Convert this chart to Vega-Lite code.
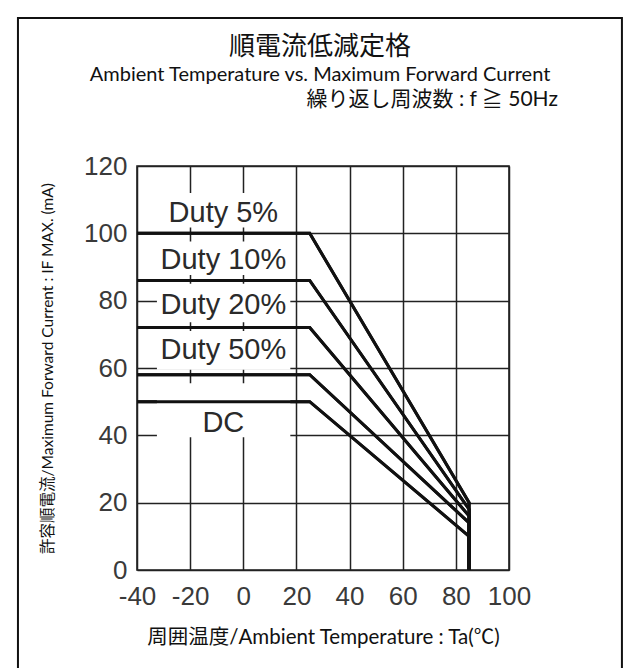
{
  "$schema": "https://vega.github.io/schema/vega-lite/v6.json",
  "width": 372,
  "height": 404,
  "autosize": {"type": "none"},
  "padding": {"left": 137, "top": 166, "right": 131, "bottom": 98},
  "background": "white",
  "config": {
    "view": {"stroke": "#222", "strokeWidth": 1.6},
    "font": "Lato",
    "axis": {
      "grid": true, "gridColor": "#222", "gridWidth": 1.5, "gridOpacity": 1,
      "domain": false, "ticks": false, "labelOverlap": false, "labelBound": false, "labelFlush": false,
      "labelFont": "Liberation Sans", "labelFontSize": 26, "labelColor": "#3a3a3a",
      "titleFont": "Lato, Noto Sans CJK JP", "titleFontWeight": "normal", "titleColor": "#111"
    }
  },
  "datasets": {
    "curves": [
      {"series": "Duty 5%", "i": 1, "temp": -40, "current": 100},
      {"series": "Duty 5%", "i": 2, "temp": 25, "current": 100},
      {"series": "Duty 5%", "i": 3, "temp": 85, "current": 20},
      {"series": "Duty 5%", "i": 4, "temp": 85, "current": 0},
      {"series": "Duty 10%", "i": 1, "temp": -40, "current": 86},
      {"series": "Duty 10%", "i": 2, "temp": 25, "current": 86},
      {"series": "Duty 10%", "i": 3, "temp": 85, "current": 18},
      {"series": "Duty 10%", "i": 4, "temp": 85, "current": 0},
      {"series": "Duty 20%", "i": 1, "temp": -40, "current": 72},
      {"series": "Duty 20%", "i": 2, "temp": 25, "current": 72},
      {"series": "Duty 20%", "i": 3, "temp": 85, "current": 16},
      {"series": "Duty 20%", "i": 4, "temp": 85, "current": 0},
      {"series": "Duty 50%", "i": 1, "temp": -40, "current": 58},
      {"series": "Duty 50%", "i": 2, "temp": 25, "current": 58},
      {"series": "Duty 50%", "i": 3, "temp": 85, "current": 14},
      {"series": "Duty 50%", "i": 4, "temp": 85, "current": 0},
      {"series": "DC", "i": 1, "temp": -40, "current": 50},
      {"series": "DC", "i": 2, "temp": 25, "current": 50},
      {"series": "DC", "i": 3, "temp": 85, "current": 10},
      {"series": "DC", "i": 4, "temp": 85, "current": 0}
    ],
    "labels": [
      {"series": "Duty 5%", "temp": -7.5, "current": 106.0, "temp2": -32.5, "tempEnd": 17.7, "low": 101.7, "high": 112},
      {"series": "Duty 10%", "temp": -7.5, "current": 92.1, "temp2": -32.5, "tempEnd": 17.7, "low": 87.6, "high": 97.6},
      {"series": "Duty 20%", "temp": -7.5, "current": 78.7, "temp2": -32.5, "tempEnd": 17.7, "low": 73.6, "high": 85},
      {"series": "Duty 50%", "temp": -7.5, "current": 65.3, "temp2": -32.5, "tempEnd": 17.7, "low": 59.5, "high": 71},
      {"series": "DC", "temp": -7.5, "current": 43.7, "temp2": -32.5, "tempEnd": 17.7, "low": 39.4, "high": 55.5}
    ]
  },
  "layer": [
    {
      "data": {"name": "curves"},
      "mark": {"type": "line", "color": "#111", "strokeWidth": 3, "strokeJoin": "miter"},
      "encoding": {
        "x": {"field": "temp", "type": "quantitative",
          "scale": {"domain": [-40, 100], "nice": false, "zero": false},
          "axis": {"values": [-40, -20, 0, 20, 40, 60, 80, 100], "labelExpr": "replace(datum.label, '−', '-')", "title": "周囲温度/Ambient Temperature : Ta(℃)", "titleFontSize": 20.5, "labelPadding": 13, "titlePadding": 18}},
        "y": {"field": "current", "type": "quantitative",
          "scale": {"domain": [0, 120], "nice": false},
          "axis": {"values": [0, 20, 40, 60, 80, 100, 120], "title": "許容順電流/Maximum Forward Current : IF MAX. (mA)", "titleFontSize": 15.5, "labelPadding": 10, "titlePadding": 28}},
        "detail": {"field": "series"},
        "order": {"field": "i", "type": "quantitative"}
      }
    },
    {
      "data": {"name": "labels"},
      "mark": {"type": "rect", "fill": "white", "strokeWidth": 0},
      "encoding": {
        "x": {"field": "temp2", "type": "quantitative", "scale": {"domain": [-40, 100], "nice": false, "zero": false}},
        "x2": {"field": "tempEnd"},
        "y": {"field": "low", "type": "quantitative", "scale": {"domain": [0, 120], "nice": false}},
        "y2": {"field": "high"}
      }
    },
    {
      "data": {"name": "curves"},
      "mark": {"type": "line", "color": "#111", "strokeWidth": 3, "strokeJoin": "miter"},
      "encoding": {
        "x": {"field": "temp", "type": "quantitative", "scale": {"domain": [-40, 100], "nice": false, "zero": false}},
        "y": {"field": "current", "type": "quantitative", "scale": {"domain": [0, 120], "nice": false}},
        "detail": {"field": "series"},
        "order": {"field": "i", "type": "quantitative"}
      }
    },
    {
      "data": {"name": "labels"},
      "mark": {"type": "text", "font": "Liberation Sans", "fontSize": 29, "color": "#2a2a2a", "baseline": "middle", "align": "center"},
      "encoding": {
        "x": {"field": "temp", "type": "quantitative", "scale": {"domain": [-40, 100], "nice": false, "zero": false}},
        "y": {"field": "current", "type": "quantitative", "scale": {"domain": [0, 120], "nice": false}},
        "text": {"field": "series"}
      }
    },
    {
      "data": {"values": [{}]},
      "mark": {"type": "rect", "fillOpacity": 0, "stroke": "#111", "strokeWidth": 2, "clip": false},
      "encoding": {
        "x": {"datum": -84.8, "type": "quantitative", "scale": {"domain": [-40, 100], "nice": false, "zero": false}},
        "x2": {"datum": 142.5},
        "y": {"datum": 163.96, "type": "quantitative", "scale": {"domain": [0, 120], "nice": false}},
        "y2": {"datum": -30}
      }
    },
    {
      "data": {"values": [{}]},
      "mark": {"type": "text", "font": "Noto Sans CJK JP", "fontSize": 26, "color": "#111", "baseline": "middle", "align": "center", "clip": false},
      "encoding": {
        "x": {"datum": 28.9, "type": "quantitative", "scale": {"domain": [-40, 100], "nice": false, "zero": false}},
        "y": {"datum": 155.35, "type": "quantitative", "scale": {"domain": [0, 120], "nice": false}},
        "text": {"value": "順電流低減定格"}
      }
    },
    {
      "data": {"values": [{}]},
      "mark": {"type": "text", "font": "Lato", "fontSize": 20, "color": "#111", "baseline": "middle", "align": "center", "clip": false},
      "encoding": {
        "x": {"datum": 28.9, "type": "quantitative", "scale": {"domain": [-40, 100], "nice": false, "zero": false}},
        "y": {"datum": 147.0, "type": "quantitative", "scale": {"domain": [0, 120], "nice": false}},
        "text": {"value": "Ambient Temperature vs. Maximum Forward Current"}
      }
    },
    {
      "data": {"values": [{}]},
      "mark": {"type": "text", "font": "Lato, Noto Sans CJK JP", "fontSize": 21, "color": "#111", "baseline": "middle", "align": "right", "clip": false},
      "encoding": {
        "x": {"datum": 118.4, "type": "quantitative", "scale": {"domain": [-40, 100], "nice": false, "zero": false}},
        "y": {"datum": 139.6, "type": "quantitative", "scale": {"domain": [0, 120], "nice": false}},
        "text": {"value": "繰り返し周波数 : f ≧ 50Hz"}
      }
    }
  ]
}
